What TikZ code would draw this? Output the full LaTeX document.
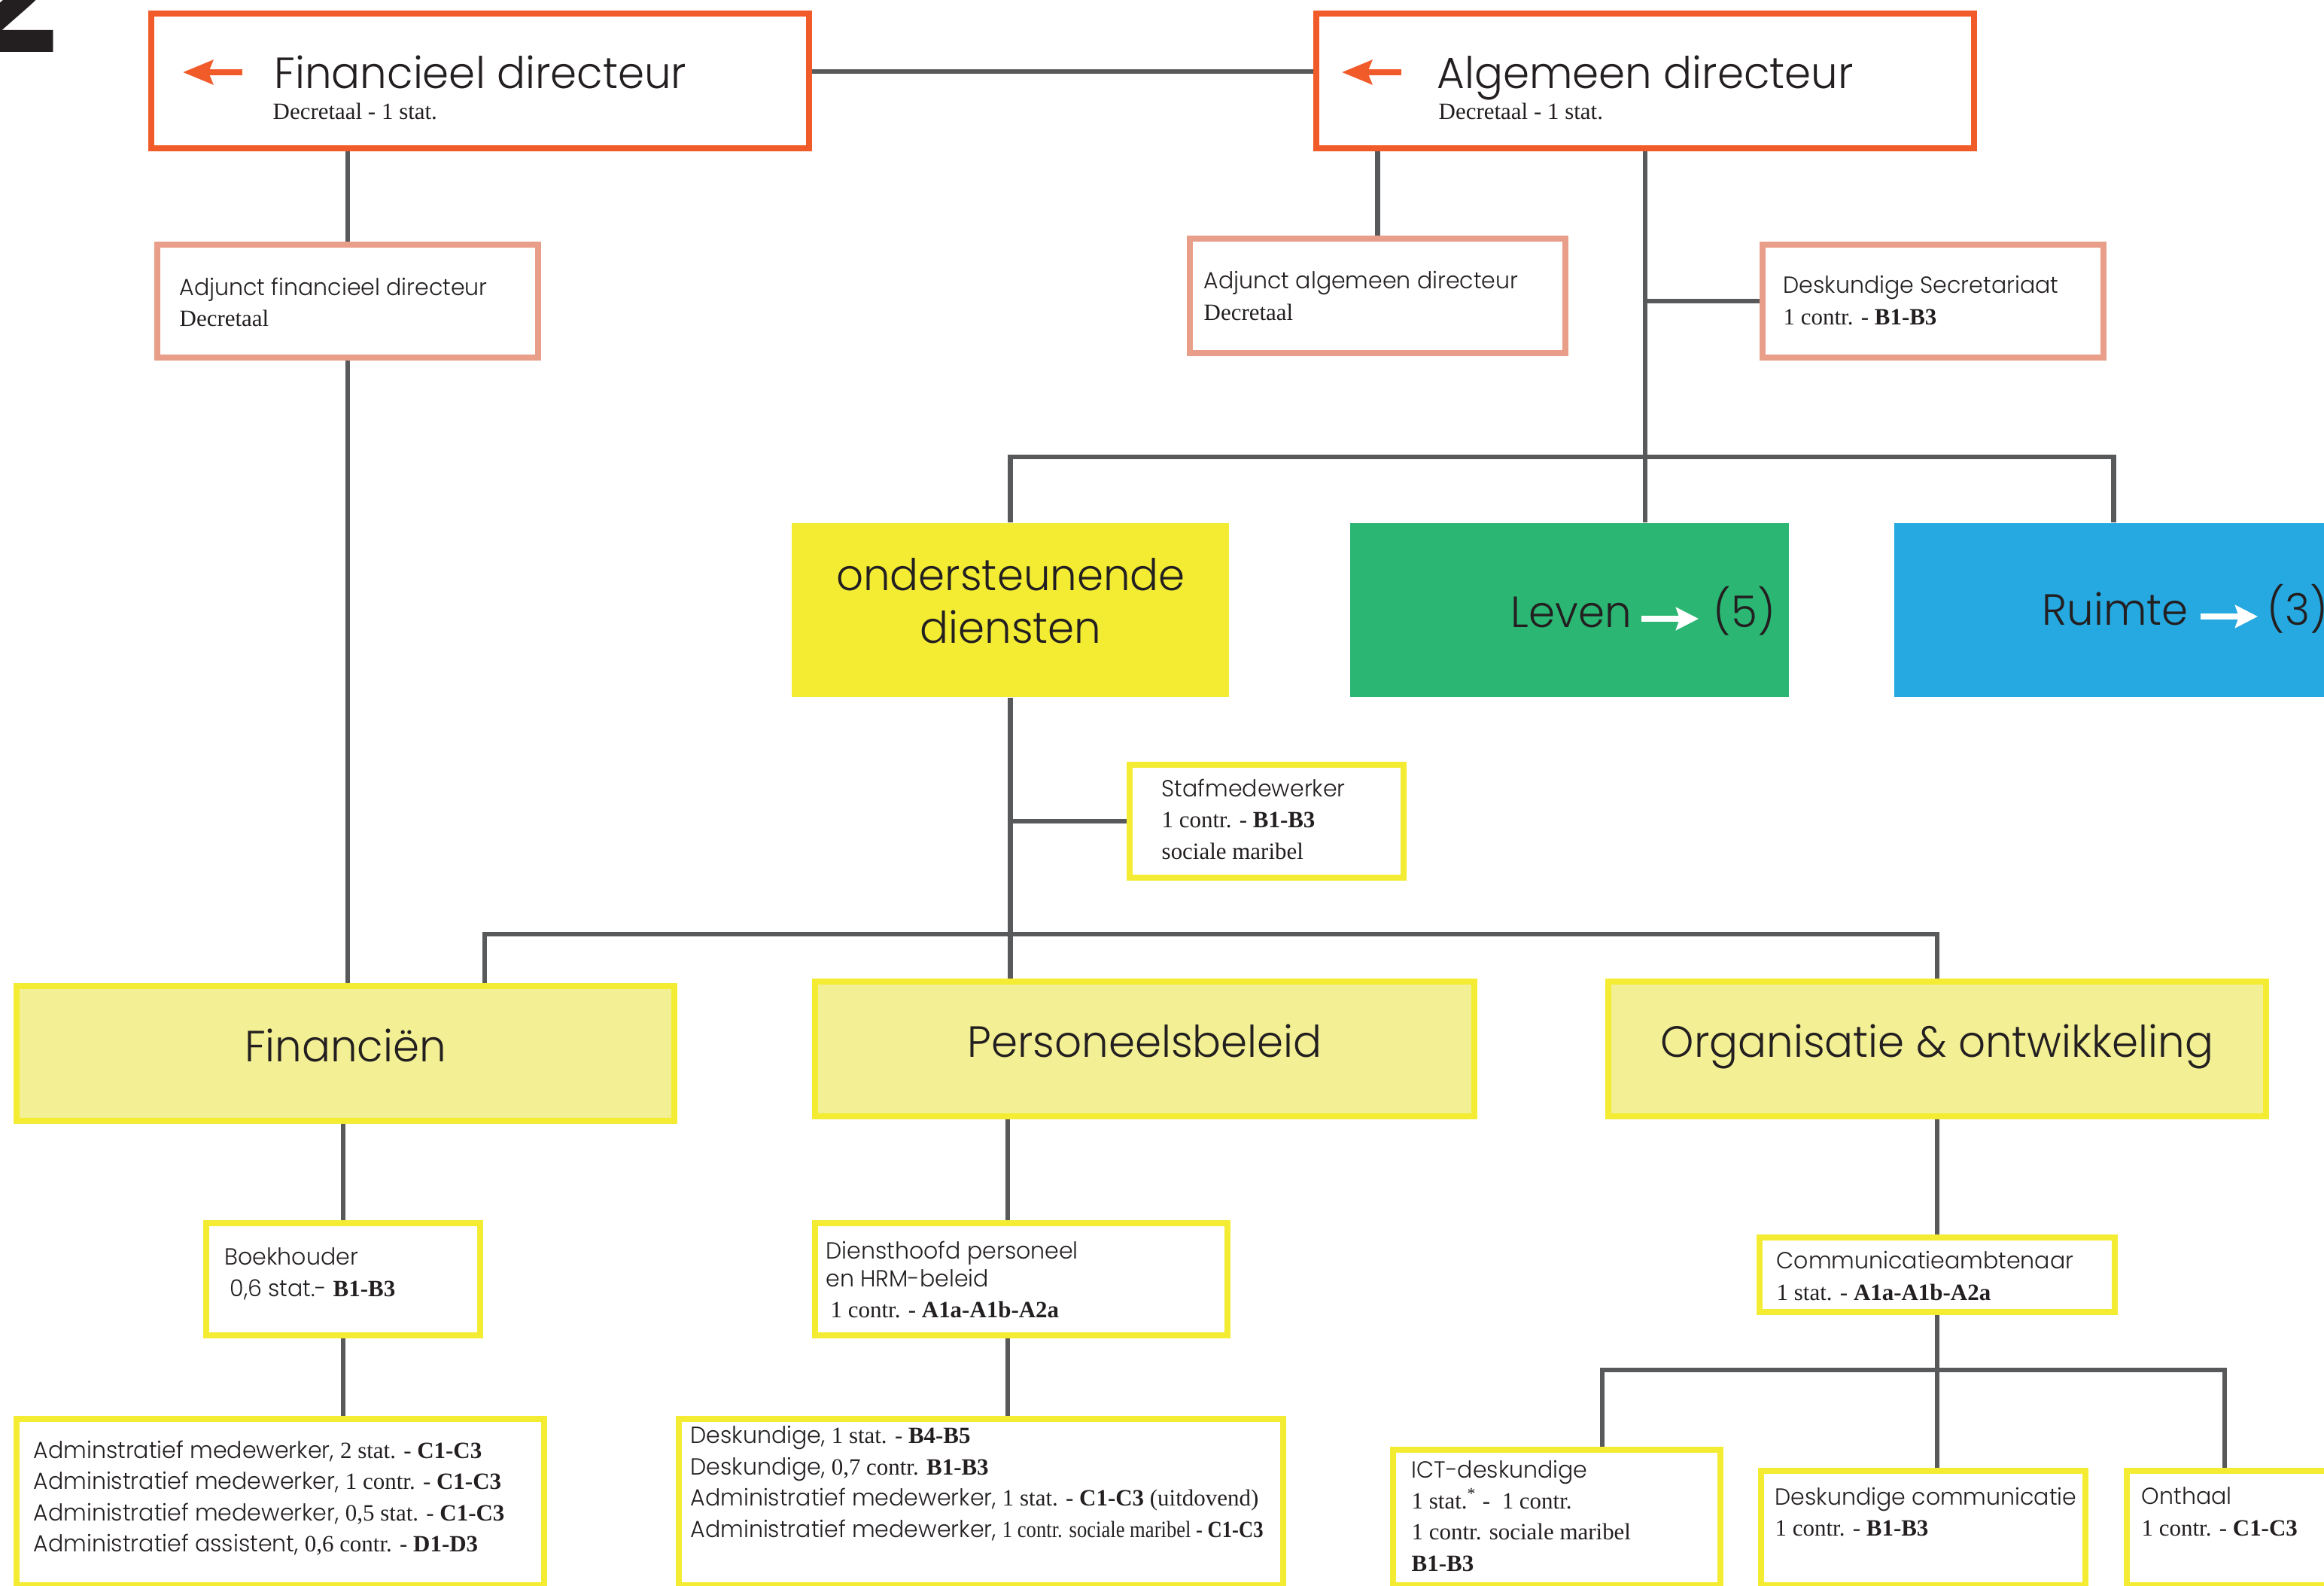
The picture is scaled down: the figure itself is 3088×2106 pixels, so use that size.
\documentclass[tikz,border=0pt]{standalone}
\usepackage{fontspec}
\usetikzlibrary{arrows.meta}
\newfontfamily\ttl{Poppins Light}[FakeStretch=0.97]
\newfontfamily\srf{Liberation Serif}
\newfontfamily\srfc{Liberation Serif}[FakeStretch=0.86]
\newfontfamily\hvy{DejaVu Sans}
\definecolor{dirc}{HTML}{F15A29}
\definecolor{adjc}{HTML}{E99E8A}
\definecolor{ylwc}{HTML}{F3EC33}
\definecolor{paleyc}{HTML}{F2EF94}
\definecolor{levc}{HTML}{2BB673}
\definecolor{ruimc}{HTML}{26A9E0}
\definecolor{linec}{HTML}{58595B}
\definecolor{txtc}{HTML}{231F20}
\tikzset{
  dirbox/.style={draw=dirc, line width=2.3pt, minimum width=8.74cm, minimum height=1.79cm, inner sep=0pt},
  adjbox/.style={draw=adjc, line width=2.3pt, minimum height=1.5cm, inner sep=0pt},
  unitbox/.style={minimum width=5.83cm, minimum height=2.31cm, inner sep=0pt},
  teambox/.style={draw=ylwc, fill=paleyc, line width=2.3pt, minimum width=8.74cm, minimum height=1.79cm, inner sep=0pt},
  jobbox/.style={draw=ylwc, fill=white, line width=2.3pt, inner sep=0pt},
  txt/.style={anchor=north west, inner sep=0pt, text=txtc, align=left, font=\ttl\fontsize{8.8}{11.8}\selectfont},
  subtxt/.style={anchor=base west, inner sep=0pt, text=txtc, font=\srf\fontsize{8.8}{11.8}\selectfont},
  bigtxt/.style={anchor=base west, inner sep=0pt, text=txtc, font=\ttl\fontsize{16.5}{19.8}\selectfont},
  unittxt/.style={anchor=base, inner sep=0pt, text=txtc, font=\ttl\fontsize{16.5}{19.8}\selectfont},
  link/.style={draw=linec, line width=1.9pt},
  dirarrow/.style={draw=dirc, line width=2pt, -{Stealth[length=0.4cm, width=0.32cm, inset=0.06cm]}},
  unitarrow/.style={draw=white, line width=2.1pt, -{Stealth[length=0.3cm, width=0.3cm, inset=0.05cm]}},
}
\newcommand\srt[1]{{\srf\fontsize{8.8}{11.8}\selectfont #1}}
\begin{document}
\begin{tikzpicture}[x=0.01cm, y=-0.01cm]
\fill[white] (0,0) rectangle (3088,2106);
\useasboundingbox (0,0) rectangle (3088,2106);
\node[anchor=base east, inner sep=0pt, text=txtc, font=\hvy\bfseries\fontsize{60}{60}\selectfont] (pagenr) at (90,70) {2};

% directie
\node[dirbox] (findir) at (638,107.5) {};
\node[dirbox] (algdir) at (2186,107.5) {};
\node[adjbox, minimum width=5.06cm] (adjfin) at (462,400) {};
\node[adjbox, minimum width=4.99cm, minimum height=1.52cm] (adjalg) at (1830.5,393) {};
\node[adjbox, minimum width=4.53cm] (desksec) at (2568.5,400) {};

% domeinen
\node[unitbox, fill=ylwc, minimum width=5.81cm] (onder) at (1342.5,810.5) {};
\node[unitbox, fill=levc] (leven) at (2085.5,810.5) {};
\node[unitbox, fill=ruimc] (ruimte) at (2808.5,810.5) {};
\node[jobbox, minimum width=3.64cm, minimum height=1.5cm] (staf) at (1683,1091) {};

% diensten
\node[teambox] (fin) at (459,1399.5) {};
\node[teambox, minimum width=8.76cm] (pers) at (1521,1393.5) {};
\node[teambox] (org) at (2574,1393.5) {};
\node[jobbox, minimum width=3.64cm, minimum height=1.49cm] (boek) at (456,1699.5) {};
\node[jobbox, minimum width=7.01cm, minimum height=2.21cm] (admin) at (372.5,1995.5) {};
\node[jobbox, minimum width=5.48cm, minimum height=1.49cm] (dienst) at (1357,1699.5) {};
\node[jobbox, minimum width=8.03cm, minimum height=2.21cm] (desk) at (1303.5,1995.5) {};
\node[jobbox, minimum width=4.72cm, minimum height=0.99cm] (comm) at (2574,1693.5) {};
\node[jobbox, minimum width=4.35cm, minimum height=1.80cm] (ict) at (2068.5,2016) {};
\node[jobbox, minimum width=4.31cm, minimum height=1.52cm] (deskcomm) at (2555.5,2030) {};
\node[jobbox, minimum width=2.90cm, minimum height=1.52cm] (onthaal) at (2971,2030) {};

% verbindingen
\coordinate (topbar) at (0,607);
\coordinate (midbar) at (644,1241);
\coordinate (persdrop) at (1339,0);
\coordinate (lowbar) at (2129,1820);
\coordinate (lowbarr) at (2956,1820);
\draw[link] (findir.east |- 0,95) -- (algdir.west |- 0,95);
\draw[link] (findir.south -| adjfin.north) -- (adjfin.north);
\draw[link] (adjfin.south) -- (adjfin.south |- fin.north);
\draw[link] (algdir.south -| adjalg.north) -- (adjalg.north);
\draw[link] (algdir.south) -- (leven.north -| algdir.south);
\draw[link] (desksec.west -| algdir.south) -- (desksec.west);
\draw[link] (onder.north) -- (onder.north |- topbar) -- (ruimte.north |- topbar) -- (ruimte.north);
\draw[link] (onder.south) -- (onder.south |- pers.north);
\draw[link] (staf.west -| onder.south) -- (staf.west);
\draw[link] (midbar |- fin.north) -- (midbar) -- (org.north |- midbar) -- (org.north);
\draw[link] (fin.south -| boek.north) -- (boek.north);
\draw[link] (boek.south) -- (boek.south |- admin.north);
\draw[link] (pers.south -| persdrop) -- (dienst.north -| persdrop);
\draw[link] (dienst.south -| persdrop) -- (desk.north -| persdrop);
\draw[link] (org.south -| comm.north) -- (comm.north);
\draw[link] (comm.south) -- (comm.south |- deskcomm.north);
\draw[link] (ict.north -| lowbar) -- (lowbar) -- (lowbarr) -- (onthaal.north -| lowbarr);

% teksten
\draw[dirarrow] (322,96) -- (243,96);
\node[bigtxt] (findirt) at (364,118) {Financieel directeur};
\node[subtxt] (findirs) at (362,159) {Decretaal - 1 stat.};
\draw[dirarrow] (1862,96) -- (1783,96);
\node[bigtxt] (algdirt) at (1909,118) {Algemeen directeur};
\node[subtxt] (algdirs) at (1911,159) {Decretaal - 1 stat.};
\node[txt] (adjfint) at (238,368) {Adjunct financieel directeur\\\srt{Decretaal}};
\node[txt] (adjalgt) at (1599,360) {Adjunct algemeen directeur\\\srt{Decretaal}};
\node[txt] (desksect) at (2369,366) {Deskundige Secretariaat\\\srt{1 contr. - \textbf{B1-B3}}};

\node[unittxt] (ondert) at (1343,784) {ondersteunende};
\node[unittxt] (onderd) at (1343,854) {diensten};
\node[bigtxt] (levent) at (2007,833) {Leven};
\node[bigtxt] (levenn) at (2276,833) {(5)};
\draw[unitarrow] (2181,822) -- (2257,822);
\node[bigtxt] (ruimtet) at (2713,830) {Ruimte};
\node[bigtxt] (ruimten) at (3012,830) {(3)};
\draw[unitarrow] (2924,819) -- (3000,819);
\node[txt] (staft) at (1543,1034) {Stafmedewerker\\\srt{1 contr. - \textbf{B1-B3}}\\\srt{sociale maribel}};

\node[unittxt] (fint) at (459,1410) {Financiën};
\node[unittxt] (perst) at (1521,1404) {Personeelsbeleid};
\node[unittxt] (orgt) at (2574,1404) {Organisatie \& ontwikkeling};

\node[txt] (boekt) at (298,1657) {Boekhouder\\\hspace*{0.07cm}0,6 stat.- \srt{\textbf{B1-B3}}};
\node[txt] (admint) at (44,1913) {Adminstratief medewerker, \srt{2 stat. - \textbf{C1-C3}}\\
  Administratief medewerker, \srt{1 contr. - \textbf{C1-C3}}\\
  Administratief medewerker, \srt{0,5 stat. - \textbf{C1-C3}}\\
  Administratief assistent, \srt{0,6 contr. - \textbf{D1-D3}}};
\node[txt] (dienstt) at (1097,1648) {Diensthoofd personeel\\[-0.045cm]en HRM-beleid\\\hspace*{0.06cm}\srt{1 contr. - \textbf{A1a-A1b-A2a}}};
\node[txt] (deskt) at (917,1894) {Deskundige, \srt{1 stat. - \textbf{B4-B5}}\\
  Deskundige, \srt{0,7 contr. \textbf{B1-B3}}\\
  Administratief medewerker, \srt{1 stat. - \textbf{C1-C3} (uitdovend)}\\
  Administratief medewerker, {\srfc\fontsize{8.8}{11.8}\selectfont 1 contr. sociale maribel - \textbf{C1-C3}}};
\node[txt] (commt) at (2360,1662) {Communicatieambtenaar\\\srt{1 stat. - \textbf{A1a-A1b-A2a}}};
\node[txt] (ictt) at (1875,1939) {ICT-deskundige\\\srt{1 stat.\textsuperscript{*} -\ \ 1 contr.}\\\srt{1 contr. sociale maribel}\\\srt{\textbf{B1-B3}}};
\node[txt] (deskcommt) at (2358,1975) {Deskundige communicatie\\\srt{1 contr. - \textbf{B1-B3}}};
\node[txt] (onthaalt) at (2845,1975) {Onthaal\\\srt{1 contr. - \textbf{C1-C3}}};
\end{tikzpicture}
\end{document}
